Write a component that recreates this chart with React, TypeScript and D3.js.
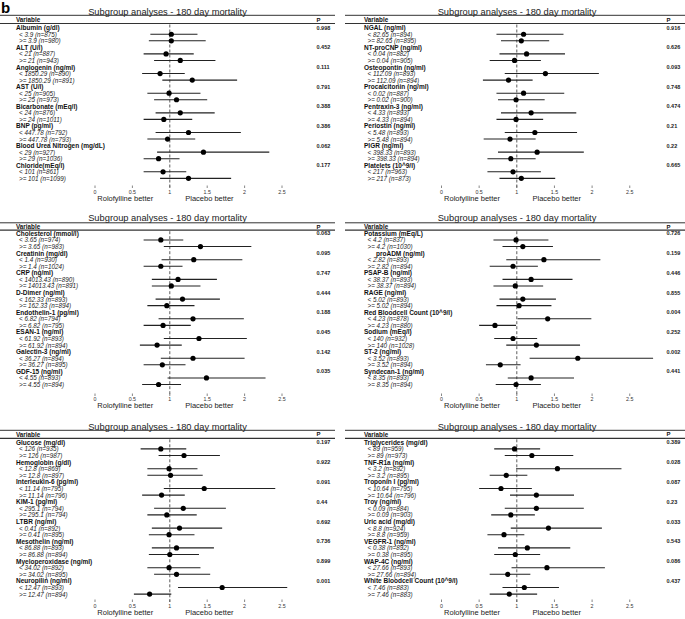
import React from "react";
import * as d3 from "d3";

// ---------- data ----------
const TITLE = "Subgroup analyses - 180 day mortality";
const TICKS = [0, 0.5, 1, 1.5, 2, 2.5];

// Panel 1 (top-left)
const p1Vars = ["Albumin (g/dl)", "ALT (U/l)", "Angiogenin (ng/ml)", "AST (U/l)", "Bicarbonate (mEq/l)", "BNP (pg/ml)", "Blood Urea Nitrogen (mg/dL)", "Chloride(mEq/l)"];
const p1P = ["0.998", "0.452", "0.111", "0.791", "0.388", "0.386", "0.062", "0.177"];
const p1Sub = ["< 3.9 (n=875)", ">= 3.9 (n=980)", "< 21 (n=887)", ">= 21 (n=943)", "< 1850.29 (n=890)", ">= 1850.29 (n=891)", "< 25 (n=905)", ">= 25 (n=973)", "< 24 (n=876)", ">= 24 (n=1011)", "< 447.78 (n=792)", ">= 447.78 (n=793)", "< 29 (n=927)", ">= 29 (n=1036)", "< 101 (n=861)", ">= 101 (n=1099)"];
const p1Est = [1.02, 1.02, 0.95, 1.14, 0.87, 1.3, 0.99, 1.09, 1.14, 0.92, 1.25, 0.97, 1.45, 0.85, 0.91, 1.25];
const p1Lo = [0.74, 0.72, 0.65, 0.79, 0.63, 0.9, 0.7, 0.79, 0.81, 0.65, 0.81, 0.7, 0.83, 0.65, 0.65, 0.87];
const p1Hi = [1.37, 1.48, 1.32, 1.61, 1.2, 1.9, 1.41, 1.5, 1.6, 1.3, 1.95, 1.34, 2.33, 1.13, 1.22, 1.82];

// Panel 2 (top-right)
const p2Vars = ["NGAL (ng/ml)", "NT-proCNP (ng/ml)", "Osteopontin (ng/ml)", "Procalcitonin (ng/ml)", "Pentraxin-3 (ng/ml)", "Periostin (ng/ml)", "PIGR (ng/ml)", "Platelets (10^9/l)"];
const p2P = ["0.916", "0.626", "0.093", "0.748", "0.474", "0.21", "0.22", "0.665"];
const p2Sub = ["< 82.65 (n=894)", ">= 82.65 (n=895)", "< 0.04 (n=882)", ">= 0.04 (n=905)", "< 112.09 (n=893)", ">= 112.09 (n=894)", "< 0.02 (n=887)", ">= 0.02 (n=900)", "< 4.33 (n=893)", ">= 4.33 (n=894)", "< 5.48 (n=893)", ">= 5.48 (n=894)", "< 398.33 (n=893)", ">= 398.33 (n=894)", "< 217 (n=963)", ">= 217 (n=873)"];
const p2Est = [1.09, 1.06, 1.13, 0.97, 1.38, 0.89, 1.09, 0.99, 1.19, 0.99, 1.24, 0.91, 1.27, 0.92, 0.95, 1.06];
const p2Lo = [0.73, 0.79, 0.77, 0.64, 0.84, 0.55, 0.73, 0.75, 0.79, 0.73, 0.84, 0.56, 0.75, 0.61, 0.61, 0.77];
const p2Hi = [1.62, 1.43, 1.64, 1.32, 2.09, 1.21, 1.63, 1.37, 1.79, 1.35, 1.8, 1.25, 1.89, 1.25, 1.32, 1.51];

// Panel 3 (middle-left)
const p3Vars = ["Cholesterol (mmol/l)", "Creatinin (mg/dl)", "CRP (ng/ml)", "D-Dimer (ng/ml)", "Endothelin-1 (pg/ml)", "ESAN-1 (ng/ml)", "Galectin-3 (ng/ml)", "GDF-15 (ng/ml)"];
const p3P = ["0.063", "0.095", "0.747", "0.444", "0.188", "0.045", "0.142", "0.035"];
const p3Sub = ["< 3.65 (n=974)", ">= 3.65 (n=983)", "< 1.4 (n=930)", ">= 1.4 (n=1024)", "< 14013.43 (n=890)", ">= 14013.43 (n=891)", "< 162.33 (n=893)", ">= 162.33 (n=894)", "< 6.82 (n=794)", ">= 6.82 (n=795)", "< 61.92 (n=893)", ">= 61.92 (n=894)", "< 36.27 (n=894)", ">= 36.27 (n=895)", "< 4.55 (n=893)", ">= 4.55 (n=894)"];
const p3Est = [0.88, 1.41, 1.32, 0.88, 1.11, 1.02, 1.17, 0.96, 1.31, 0.91, 1.39, 0.83, 1.31, 0.9, 1.49, 0.85];
const p3Lo = [0.65, 0.92, 0.89, 0.65, 0.76, 0.76, 0.81, 0.7, 0.85, 0.65, 0.92, 0.6, 0.88, 0.65, 0.97, 0.63];
const p3Hi = [1.18, 2.09, 1.97, 1.17, 1.63, 1.41, 1.67, 1.33, 1.99, 1.28, 2.03, 1.16, 2.0, 1.21, 2.28, 1.15];

// Panel 4 (middle-right)
const p4Vars = ["Potassium (mEq/L)", "    proADM (ng/ml)", "PSAP-B (ng/ml)", "RAGE (ng/ml)", "Red Bloodcell Count (10^9/l)", "Sodium (mEq/l)", "ST-2 (ng/ml)", "Syndecan-1 (ng/ml)"];
const p4P = ["0.726", "0.159", "0.446", "0.855", "0.004", "0.252", "0.002", "0.441"];
const p4Sub = ["< 4.2 (n=837)", ">= 4.2 (n=1030)", "< 2.82 (n=893)", ">= 2.82 (n=894)", "< 38.37 (n=893)", ">= 38.37 (n=894)", "< 5.02 (n=893)", ">= 5.02 (n=894)", "< 4.23 (n=878)", ">= 4.23 (n=880)", "< 140 (n=932)", ">= 140 (n=1028)", "< 3.52 (n=893)", ">= 3.52 (n=894)", "< 8.35 (n=893)", ">= 8.35 (n=894)"];
const p4Est = [0.99, 1.08, 1.36, 0.95, 1.19, 0.98, 1.08, 1.03, 1.41, 0.71, 0.95, 1.26, 1.81, 0.78, 1.19, 0.99];
const p4Lo = [0.69, 0.81, 0.86, 0.64, 0.81, 0.69, 0.77, 0.73, 1.01, 0.5, 0.7, 0.86, 1.17, 0.59, 0.88, 0.72];
const p4Hi = [1.42, 1.48, 2.11, 1.28, 1.74, 1.35, 1.52, 1.46, 1.99, 0.99, 1.27, 1.84, 2.81, 1.05, 1.76, 1.32];

// Panel 5 (bottom-left)
const p5Vars = ["Glucose (mg/dl)", "Hemoglobin (g/dl)", "Interleukin-6 (pg/ml)", "KIM-1 (pg/ml)", "LTBR (ng/ml)", "Mesothelin (ng/ml)", "Myeloperoxidase (ng/ml)", "Neuropilin (ng/ml)"];
const p5P = ["0.197", "0.922", "0.091", "0.44", "0.692", "0.736", "0.899", "0.001"];
const p5Sub = ["< 126 (n=935)", ">= 126 (n=987)", "< 12.8 (n=869)", ">= 12.8 (n=897)", "< 11.14 (n=795)", ">= 11.14 (n=796)", "< 295.1 (n=794)", ">= 295.1 (n=794)", "< 0.41 (n=892)", ">= 0.41 (n=895)", "< 86.88 (n=893)", ">= 86.88 (n=894)", "< 34.02 (n=892)", ">= 34.02 (n=895)", "< 12.47 (n=893)", ">= 12.47 (n=894)"];
const p5Est = [0.88, 1.19, 0.99, 1.01, 1.46, 0.89, 1.18, 0.96, 1.13, 0.99, 1.09, 1.0, 0.99, 1.09, 1.7, 0.73];
const p5Lo = [0.61, 0.85, 0.7, 0.7, 0.92, 0.63, 0.79, 0.7, 0.76, 0.72, 0.76, 0.72, 0.7, 0.79, 1.11, 0.52];
const p5Hi = [1.22, 1.67, 1.37, 1.44, 2.41, 1.2, 1.75, 1.36, 1.7, 1.33, 1.59, 1.39, 1.41, 1.54, 2.57, 1.02];

// Panel 6 (bottom-right)
const p6Vars = ["Triglycerides (mg/dl)", "TNF-R1a (ng/ml)", "Troponin I (pg/ml)", "Troy (ng/ml)", "Uric acid (mg/dl)", "VEGFR-1 (ng/ml)", "WAP-4C (ng/ml)", "White Bloodcell Count (10^9/l)"];
const p6P = ["0.389", "0.028", "0.087", "0.23", "0.033", "0.543", "0.086", "0.437"];
const p6Sub = ["< 89 (n=959)", ">= 89 (n=973)", "< 3.2 (n=892)", ">= 3.2 (n=895)", "< 10.64 (n=795)", ">= 10.64 (n=796)", "< 0.09 (n=884)", ">= 0.09 (n=903)", "< 8.8 (n=924)", ">= 8.8 (n=959)", "< 0.38 (n=892)", ">= 0.38 (n=895)", "< 27.66 (n=893)", ">= 27.66 (n=894)", "< 7.46 (n=883)", ">= 7.46 (n=883)"];
const p6Est = [0.97, 1.2, 1.54, 0.86, 0.79, 1.26, 1.26, 0.92, 1.42, 0.83, 1.14, 0.98, 1.4, 0.88, 1.1, 0.9];
const p6Lo = [0.7, 0.84, 0.99, 0.64, 0.5, 0.91, 0.84, 0.66, 0.92, 0.61, 0.75, 0.7, 0.93, 0.64, 0.81, 0.64];
const p6Hi = [1.31, 1.75, 2.39, 1.14, 1.2, 1.76, 1.89, 1.24, 2.13, 1.1, 1.71, 1.31, 2.17, 1.18, 1.56, 1.27];

// ---------- layout ----------
const FONT = "'Liberation Sans', Arial, Helvetica, sans-serif";

const COLS = [
  { x0: 0, x1: 335, labelX: 16, subX: 19, pX: 316.5, r0: 95, r1: 169.8, titleX: 167.5 },
  { x0: 345, x1: 685, labelX: 364, subX: 367.5, pX: 666.5, r0: 441.5, r1: 516.8, titleX: 517 },
];
const ROWS = [
  { title: 11.7, line1: 15.3, varY: 19.5, line2: 23.5, first: 27.7, step: 6.55, tickY: 187, tickLabelY: 191.7, betterY: 198.5 },
  { title: 218.3, line1: 222.8, varY: 226.7, line2: 230.2, first: 233.4, step: 6.57, tickY: 395, tickLabelY: 399.3, betterY: 405.5 },
  { title: 426.7, line1: 430.3, varY: 434.4, line2: 438.3, first: 442.3, step: 6.6, tickY: 601, tickLabelY: 605.5, betterY: 612.5 },
];

type PanelData = { vars: string[]; p: string[]; sub: string[]; est: number[]; lo: number[]; hi: number[] };
const PANELS: { col: number; row: number; d: PanelData }[] = [
  { col: 0, row: 0, d: { vars: p1Vars, p: p1P, sub: p1Sub, est: p1Est, lo: p1Lo, hi: p1Hi } },
  { col: 1, row: 0, d: { vars: p2Vars, p: p2P, sub: p2Sub, est: p2Est, lo: p2Lo, hi: p2Hi } },
  { col: 0, row: 1, d: { vars: p3Vars, p: p3P, sub: p3Sub, est: p3Est, lo: p3Lo, hi: p3Hi } },
  { col: 1, row: 1, d: { vars: p4Vars, p: p4P, sub: p4Sub, est: p4Est, lo: p4Lo, hi: p4Hi } },
  { col: 0, row: 2, d: { vars: p5Vars, p: p5P, sub: p5Sub, est: p5Est, lo: p5Lo, hi: p5Hi } },
  { col: 1, row: 2, d: { vars: p6Vars, p: p6P, sub: p6Sub, est: p6Est, lo: p6Lo, hi: p6Hi } },
];

function Panel({ col, row, d }: { col: number; row: number; d: PanelData }) {
  const C = COLS[col];
  const R = ROWS[row];
  const x = d3.scaleLinear().domain([0, 1]).range([C.r0, C.r1]);
  const y = (i: number) => R.first + i * R.step;
  const items: React.ReactNode[] = [];
  d.vars.forEach((v, k) => {
    const hy = y(k * 3);
    const indent = v.startsWith("    ") ? 12 : 0;
    items.push(
      <text key={"v" + k} x={C.labelX + indent} y={hy} fontSize={6.5} fontWeight="bold" dominantBaseline="central" fill="#111">
        {v.trim()}
      </text>
    );
    items.push(
      <text key={"p" + k} x={C.pX} y={hy} fontSize={5.5} fontWeight="bold" dominantBaseline="central" fill="#222">
        {d.p[k]}
      </text>
    );
    for (let j = 0; j < 2; j++) {
      const i = k * 2 + j;
      const ry = y(k * 3 + 1 + j);
      items.push(
        <text key={"s" + i} x={C.subX} y={ry} fontSize={6.3} fontStyle="italic" dominantBaseline="central" fill="#222">
          {d.sub[i]}
        </text>
      );
      items.push(
        <line key={"l" + i} x1={x(d.lo[i])} x2={x(d.hi[i])} y1={ry} y2={ry} stroke="#222" strokeWidth={1.1} />
      );
      items.push(<circle key={"c" + i} cx={x(d.est[i])} cy={ry} r={2.6} fill="#000" />);
    }
  });
  return (
    <g fontFamily={FONT}>
      <text x={C.titleX} y={R.title} fontSize={9.3} textAnchor="middle" dominantBaseline="central" fill="#222">
        {TITLE}
      </text>
      <line x1={C.x0} x2={C.x1} y1={R.line1} y2={R.line1} stroke="#333" strokeWidth={1} />
      <line x1={C.x0} x2={C.x1} y1={R.line2} y2={R.line2} stroke="#333" strokeWidth={1.2} />
      <text x={C.labelX} y={R.varY} fontSize={6.3} fontWeight="bold" dominantBaseline="central" fill="#111">
        Variable
      </text>
      <text x={C.pX} y={R.varY} fontSize={6} fontWeight="bold" dominantBaseline="central" fill="#111">
        P
      </text>
      <line x1={x(1)} x2={x(1)} y1={R.line2 + 1} y2={R.tickY + 1} stroke="#333" strokeWidth={0.8} strokeDasharray="3,2" />
      {items}
      {TICKS.map((t) => (
        <g key={"t" + t}>
          <line x1={x(t)} x2={x(t)} y1={R.tickY - 1.5} y2={R.tickY + 1} stroke="#555" strokeWidth={0.7} />
          <text x={x(t)} y={R.tickLabelY} fontSize={5.3} textAnchor="middle" dominantBaseline="central" fill="#333">
            {String(t)}
          </text>
        </g>
      ))}
      <text x={x(0.405)} y={R.betterY} fontSize={7.5} textAnchor="middle" dominantBaseline="central" fill="#222">
        Rolofylline better
      </text>
      <text x={x(1.53)} y={R.betterY} fontSize={7.5} textAnchor="middle" dominantBaseline="central" fill="#222">
        Placebo better
      </text>
    </g>
  );
}

export default function App() {
  return (
    <svg
      width={685}
      height={619}
      viewBox="0 0 685 619"
      style={{ position: "absolute", left: 0, top: 0, background: "#fff" }}
    >
      <rect x={0} y={0} width={685} height={619} fill="#fff" />
      <text x={1} y={13} fontSize={15} fontWeight="bold" fontFamily={FONT} fill="#000">
        b
      </text>
      {PANELS.map((p, i) => (
        <Panel key={i} col={p.col} row={p.row} d={p.d} />
      ))}
    </svg>
  );
}
